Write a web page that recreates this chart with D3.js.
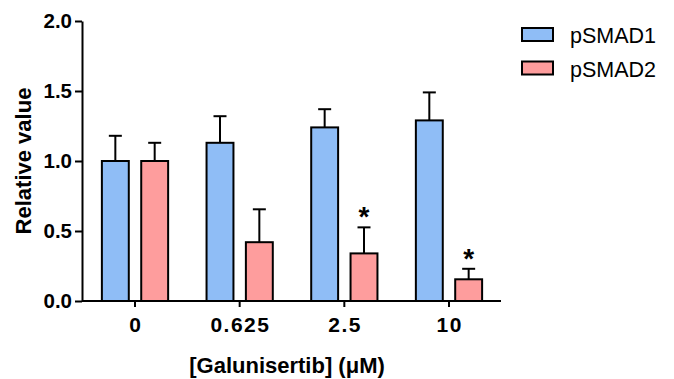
<!DOCTYPE html>
<html>
<head>
<meta charset="utf-8">
<script src="https://cdn.jsdelivr.net/npm/d3@7"></script>
<style>
    html, body { margin: 0; padding: 0; background: #ffffff; }
    svg { display: block; }
    text { font-family: "Liberation Sans", Arial, sans-serif; fill: #000000; }
</style>
</head>
<body>
<div id="chart"></div>
<script>
(function () {
    "use strict";

    const categories = ["0", "0.625", "2.5", "10"];
    const seriesNames = ["pSMAD1", "pSMAD2"];
    const pSMAD1 = [1.00, 1.13, 1.24, 1.29];
    const pSMAD1Err = [0.18, 0.19, 0.13, 0.20];
    const pSMAD2 = [1.00, 0.42, 0.34, 0.155];
    const pSMAD2Err = [0.13, 0.235, 0.186, 0.075];
    const pSMAD2Stars = ["", "", "*", "*"];
    const yTicks = [0, 0.5, 1.0, 1.5, 2.0];

    const width = 674;
    const height = 379;
    const colors = { pSMAD1: "#8fbdf6", pSMAD2: "#fe9d9d" };

    const rows = categories.map((c, i) => ({
        category: c,
        values: [
            { series: "pSMAD1", value: pSMAD1[i], err: pSMAD1Err[i], star: "" },
            { series: "pSMAD2", value: pSMAD2[i], err: pSMAD2Err[i], star: pSMAD2Stars[i] }
        ]
    }));

    const svg = d3.select("#chart")
        .append("svg")
        .attr("width", width)
        .attr("height", height);

    const x0 = d3.scaleBand()
        .domain(categories)
        .range([82, 502])
        .paddingInner(0.367)
        .paddingOuter(0.19);

    const x1 = d3.scaleBand()
        .domain(seriesNames)
        .range([0, x0.bandwidth()])
        .paddingInner(0.316);

    const y = d3.scaleLinear()
        .domain([0, 2])
        .range([301, 21]);

    // bars
    const groups = svg.append("g")
        .selectAll("g")
        .data(rows)
        .join("g")
        .attr("transform", (d) => `translate(${x0(d.category)},0)`);

    const items = groups.selectAll("g")
        .data((d) => d.values)
        .join("g");

    // error bars (upper only)
    items.append("line")
        .attr("x1", (d) => x1(d.series) + x1.bandwidth() / 2)
        .attr("x2", (d) => x1(d.series) + x1.bandwidth() / 2)
        .attr("y1", (d) => y(d.value))
        .attr("y2", (d) => y(d.value + d.err))
        .attr("stroke", "#000")
        .attr("stroke-width", 2);

    items.append("line")
        .attr("x1", (d) => x1(d.series) + x1.bandwidth() / 2 - 6.5)
        .attr("x2", (d) => x1(d.series) + x1.bandwidth() / 2 + 6.5)
        .attr("y1", (d) => y(d.value + d.err))
        .attr("y2", (d) => y(d.value + d.err))
        .attr("stroke", "#000")
        .attr("stroke-width", 2);

    items.append("rect")
        .attr("x", (d) => x1(d.series))
        .attr("y", (d) => y(d.value))
        .attr("width", x1.bandwidth())
        .attr("height", (d) => y(0) - y(d.value))
        .attr("fill", (d) => colors[d.series])
        .attr("stroke", "#000")
        .attr("stroke-width", 2);

    items.filter((d) => d.star)
        .append("text")
        .attr("x", (d) => x1(d.series) + x1.bandwidth() / 2)
        .attr("y", (d) => y(d.value + d.err) - 1)
        .attr("text-anchor", "middle")
        .style("font-size", "28px")
        .style("font-weight", "700")
        .text((d) => d.star);

    // axes
    const yAxis = svg.append("g")
        .attr("transform", "translate(82,0)")
        .call(d3.axisLeft(y).tickValues(yTicks).tickFormat(d3.format(".1f")).tickSize(7).tickSizeOuter(0).tickPadding(3));

    yAxis.selectAll("path, line").attr("stroke", "#000").attr("stroke-width", 2);
    yAxis.selectAll("text")
        .attr("font-family", null)
        .style("font-size", "20.5px")
        .style("font-weight", "700");

    const xAxis = svg.append("g")
        .attr("transform", "translate(0,301)")
        .call(d3.axisBottom(x0).tickSize(6).tickSizeOuter(0).tickPadding(10));

    xAxis.selectAll("path, line").attr("stroke", "#000").attr("stroke-width", 2);
    xAxis.select(".domain").attr("d", "M82,0H501");
    xAxis.selectAll("text")
        .attr("font-family", null)
        .attr("dy", "0.71em")
        .attr("dx", "0.75px")
        .style("font-size", "21px")
        .style("font-weight", "700")
        .style("letter-spacing", "1.5px");

    // axis titles
    svg.append("text")
        .attr("transform", "translate(31,161) rotate(-90)")
        .attr("text-anchor", "middle")
        .style("font-size", "22px")
        .style("font-weight", "700")
        .text("Relative value");

    svg.append("text")
        .attr("x", 287)
        .attr("y", 373)
        .attr("text-anchor", "middle")
        .style("font-size", "22px")
        .style("font-weight", "700")
        .text("[Galunisertib] (\u03bcM)");

    // legend
    const legend = svg.append("g")
        .selectAll("g")
        .data(seriesNames)
        .join("g")
        .attr("transform", (d, i) => `translate(522,${28 + i * 33.5})`);

    legend.append("rect")
        .attr("width", 31)
        .attr("height", 13)
        .attr("fill", (d) => colors[d])
        .attr("stroke", "#000")
        .attr("stroke-width", 2);

    legend.append("text")
        .attr("x", 48)
        .attr("y", 15)
        .style("font-size", "21.5px")
        .text((d) => d);
})();
</script>
</body>
</html>
